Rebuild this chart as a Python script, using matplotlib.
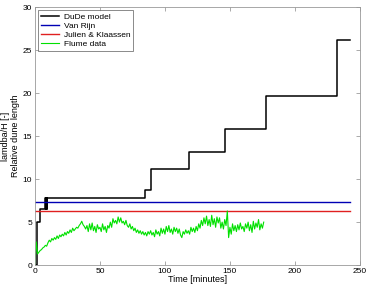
import matplotlib
matplotlib.use("Agg")
import matplotlib.pyplot as plt

plt.rcParams['font.family'] = ['Liberation Sans', 'DejaVu Sans']

# DuDe model (step function)
dude_t = [0, 1.5, 3.8, 7.5, 8.2, 8.6, 9.0, 9.4, 9.8, 84.6, 89.2, 118.5, 146, 178, 232.6, 242]
dude_v = [0, 5.0, 6.5, 7.8, 6.5, 7.8, 6.5, 7.8, 7.8, 8.7, 11.2, 13.1, 15.8, 19.65, 26.2, 26.2]

# Equilibrium predictions
vanrijn_t = [0, 242]
vanrijn_v = [7.3, 7.3]
julien_t = [0, 242]
julien_v = [6.28, 6.28]

# Flume data (one value per minute, 0..176)
flume_v = [
    0.0, 2.7, 1.3, 1.5, 1.7, 1.8, 2.0, 2.1, 2.3, 2.2,
    2.6, 2.9, 2.7, 3.1, 2.9, 3.2, 3.0, 3.4, 3.1, 3.5,
    3.3, 3.6, 3.4, 3.8, 3.5, 3.9, 3.7, 4.1, 3.8, 4.3,
    4.0, 4.2, 4.4, 4.3, 4.6, 4.8, 5.1, 4.7, 4.5, 4.2,
    4.6, 3.9, 4.8, 4.1, 4.9, 4.0, 4.5, 3.8, 4.7, 4.2,
    4.4, 3.9, 4.8, 4.1, 4.5, 3.8, 4.6, 4.3, 5.0, 4.4,
    5.4, 4.9, 5.2, 4.8, 5.6, 5.0, 5.5, 4.9, 5.1, 4.7,
    5.2, 4.6, 4.4, 4.8, 4.2, 4.5, 4.0, 4.3, 3.8, 4.1,
    3.7, 4.0, 3.6, 3.9, 3.5, 3.8, 3.4, 3.9, 3.6, 4.0,
    3.5, 3.8, 3.3, 4.1, 3.6, 3.9, 3.4, 4.3, 3.7, 4.2,
    3.6, 4.5, 3.9, 4.6, 3.8, 4.2, 3.6, 4.4, 3.9, 4.3,
    3.7, 4.2, 3.5, 3.2, 3.9, 3.6, 4.1, 3.7, 4.0, 3.6,
    4.4, 3.9, 4.3, 3.8, 4.5, 4.0, 4.8, 4.3, 5.2, 4.6,
    5.5, 4.8, 5.7, 4.6, 5.3, 4.5, 5.8, 4.7, 5.4, 4.4,
    5.6, 4.9, 5.5, 4.3, 5.0, 4.2, 5.3, 4.6, 6.3, 3.2,
    4.4, 3.6, 4.8, 4.0, 4.6, 3.9, 4.7, 4.1, 4.9, 4.2,
    4.5, 3.9, 4.8, 4.3, 5.0, 4.0, 4.7, 3.8, 5.1, 4.2,
    4.9, 4.4, 5.3, 4.1, 4.8, 4.3, 5.0,
]
flume_t = list(range(len(flume_v)))

xticks = [0, 50, 100, 150, 200, 250]
yticks = [0, 5, 10, 15, 20, 25, 30]

fig = plt.figure(figsize=(3.68, 2.86), dpi=100)
ax = fig.add_axes([0.095, 0.073, 0.883, 0.902])

ax.plot(dude_t, dude_v, color='black', lw=1.1, drawstyle='steps-post', label='DuDe model')
ax.plot(vanrijn_t, vanrijn_v, color='#0000b4', lw=1.0, label='Van Rijn')
ax.plot(julien_t, julien_v, color='#e02020', lw=1.0, label='Julien & Klaassen')
ax.plot(flume_t, flume_v, color='#00e000', lw=0.8, label='Flume data')

ax.set_xlim(0, 250)
ax.set_ylim(0, 30)
ax.set_xticks(xticks)
ax.set_yticks(yticks)
ax.tick_params(direction='in', length=3, width=0.5, labelsize=6, color='#888888',
               top=True, right=True, pad=2)
for s in ax.spines.values():
    s.set_color('#999999')
    s.set_linewidth(0.6)

ax.set_xlabel('Time [minutes]', fontsize=6.5, labelpad=0)
ax.set_ylabel('lamdba/H [-]\nRelative dune length', fontsize=6.5, labelpad=2, linespacing=1.1)

leg = ax.legend(loc='upper left', fontsize=6, frameon=True, fancybox=False,
                borderpad=0.3, labelspacing=0.15, handlelength=2.2, handletextpad=0.6,
                borderaxespad=0.4)
leg.get_frame().set_edgecolor('#555555')
leg.get_frame().set_linewidth(0.6)

fig.savefig('out.png', dpi=100)
